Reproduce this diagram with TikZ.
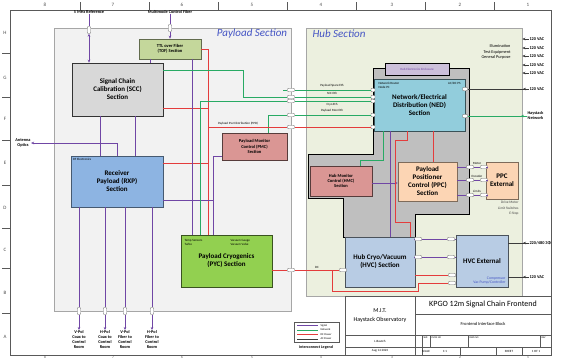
\documentclass[tikz,border=0pt]{standalone}
\usepackage{fontspec}
\setmainfont{Carlito}
\usetikzlibrary{arrows.meta,positioning}

\definecolor{kpgosig}{RGB}{112,70,165}
\definecolor{kpgonet}{RGB}{40,170,100}
\definecolor{kpgodc}{RGB}{228,60,60}
\definecolor{kpgoac}{RGB}{60,60,60}
\definecolor{kpgoblue}{RGB}{68,84,196}
\definecolor{payloadbg}{RGB}{242,242,242}
\definecolor{hubbg}{RGB}{236,240,223}
\definecolor{sccgray}{RGB}{216,216,216}
\definecolor{tofgreen}{RGB}{196,215,155}
\definecolor{rxpblue}{RGB}{141,180,226}
\definecolor{monred}{RGB}{218,150,148}
\definecolor{pycgreen}{RGB}{146,208,80}
\definecolor{nedcyan}{RGB}{146,205,220}
\definecolor{enclgray}{RGB}{191,191,191}
\definecolor{heepurple}{RGB}{204,192,218}
\definecolor{ppcorange}{RGB}{252,213,180}
\definecolor{hvcblue}{RGB}{184,204,228}

\begin{document}
\begin{tikzpicture}[
    x=1pt, y=-1pt,
    sec/.style={draw=gray!70, line width=0.6pt, inner sep=0pt},
    blk/.style={draw, line width=0.6pt, inner sep=1pt, align=center,
                font=\fontsize{7}{8}\selectfont\bfseries},
    conn/.style={draw=gray!80!black, fill=white, rounded corners=0.8pt,
                 minimum width=7pt, minimum height=3.5pt, inner sep=0pt,
                 line width=0.4pt},
    vconn/.style={conn, minimum width=3.5pt, minimum height=7pt},
    sig/.style={kpgosig, line width=0.9pt},
    net/.style={kpgonet, line width=0.9pt},
    dcp/.style={kpgodc, line width=0.9pt},
    acp/.style={kpgoac, line width=0.9pt},
    tip/.style={-{Stealth[length=3pt,width=2.6pt]}},
    weelbl/.style={font=\fontsize{3.2}{3.8}\selectfont, inner sep=0.3pt},
    lbl/.style={font=\fontsize{4.3}{5}\selectfont\bfseries, align=center,
                inner sep=0.3pt},
    ruler/.style={gray!70!black, line width=0.5pt},
    rlab/.style={font=\fontsize{5}{6}\selectfont, text=gray!60!black},
]

\useasboundingbox[fill=white] (0,0) rectangle (561,360);

% ================================================================
% DRAWING FRAME
% ================================================================
\draw[ruler] (10,10) rectangle (551,355);
\foreach \xx [count=\k] in {45,113,182,252,321,392,460,528} {
  \pgfmathtruncatemacro{\col}{9-\k}
  \node[rlab] (top\k) at (\xx,5) {\col};
  \node[rlab, font=\fontsize{3.5}{4}\selectfont, inner sep=0pt]
    (bot\k) at (\xx,357.8) {\col};
}
\foreach \xx in {80,149,218,287,356,425,494} {
  \draw[ruler] (\xx,2) -- (\xx,10);
}
\foreach \yy/\row in {33/H,78/G,119/F,163/E,208/D,250/C,293/B,337/A} {
  \node[rlab] (row\row) at (5,\yy) {\row};
}
\foreach \yy in {53,97,140,185,228,268,313} {
  \draw[ruler] (2,\yy) -- (10,\yy);
}

% ================================================================
% SECTIONS
% ================================================================
\node[sec, fill=payloadbg, minimum width=237pt, minimum height=283pt]
  (payload) at (172.5,169.5) {};
\node[font=\fontsize{11}{12}\selectfont\itshape, text=kpgoblue]
  (paytitle) at (252,34) {Payload Section};

\node[sec, fill=hubbg, minimum width=216pt, minimum height=268pt]
  (hub) at (414,162) {};
\node[font=\fontsize{11}{12}\selectfont\itshape, text=kpgoblue]
  (hubtitle) at (339,34) {Hub Section};

% Hub electronics enclosure outline
\draw[fill=enclgray, line width=1pt]
  (373,68) -- (469,68) -- (469,214) -- (415,214) -- (415,237)
  -- (343,237) -- (343,198) -- (308,198) -- (308,154) -- (373,154) -- cycle;
\node[draw, line width=1pt, fill=heepurple, minimum width=64pt,
      minimum height=12pt, inner sep=0pt, weelbl, text=kpgosig]
  (hee) at (417,69) {Hub Electronics Enclosure};

% ================================================================
% PAYLOAD BLOCKS
% ================================================================
\node[blk, fill=sccgray, draw=gray!40!black, minimum width=91pt,
      minimum height=53pt] (scc) at (117.5,89.5)
  {Signal Chain\\Calibration (SCC)\\Section};
\node[blk, fill=tofgreen, draw=tofgreen!50!black, minimum width=62pt,
      minimum height=20pt, font=\fontsize{4.5}{5.3}\selectfont\bfseries]
  (tof) at (170,49) {TTL over Fiber\\(TOF) Section};
\node[blk, fill=rxpblue, draw=rxpblue!50!black, minimum width=92pt,
      minimum height=51pt] (rxp) at (117,181.5)
  {Receiver\\Payload (RXP)\\Section};
\node[weelbl, anchor=west] (rfel) at (rxp.north west) [yshift=-4pt, xshift=2pt]
  {RF Electronics};
\node[blk, fill=monred, draw=monred!40!black, minimum width=65pt,
      minimum height=27pt, font=\fontsize{4.5}{5.3}\selectfont\bfseries]
  (pmc) at (254.5,146.5) {Payload Monitor\\Control (PMC)\\Section};
\node[blk, fill=pycgreen, draw=pycgreen!40!black, minimum width=91pt,
      minimum height=52pt] (pyc) at (226.5,261)
  {Payload Cryogenics\\(PYC) Section};
\node[weelbl, anchor=north west, align=left] (pycl) at (184,239)
  {Temp Sensors\\Turbo};
\node[weelbl, anchor=north west, align=left] (pycr) at (230,239)
  {Vacuum Gauge\\Vacuum Valve};

% ================================================================
% HUB BLOCKS
% ================================================================
\node[blk, fill=nedcyan, draw=nedcyan!40!black, minimum width=91pt,
      minimum height=52pt] (ned) at (419.5,105)
  {Network/Electrical\\Distribution (NED)\\Section};
\node[weelbl, anchor=north west, align=left] (nedl) at (378,82)
  {Network Router\\Node PC};
\node[weelbl, anchor=north east] (nedr) at (461,82) {AC/DC PS};
\node[blk, fill=monred, draw=monred!40!black, minimum width=62pt,
      minimum height=30pt, font=\fontsize{4.5}{5.3}\selectfont\bfseries]
  (hmc) at (341,181) {Hub Monitor\\Control (HMC)\\Section};
\node[blk, fill=ppcorange, draw=ppcorange!50!black, minimum width=59pt,
      minimum height=39pt] (ppc) at (427.5,181.5)
  {Payload\\Positioner\\Control (PPC)\\Section};
\node[blk, fill=ppcorange, draw=ppcorange!50!black, minimum width=32pt,
      minimum height=37pt] (ppcext) at (502,180.5) {PPC\\External};
\node[weelbl, anchor=north east, align=right, text=gray!50!black,
      font=\fontsize{3.5}{5.5}\selectfont] (ppcnote) at (519,201)
  {Drive Motor\\Limit Switches\\E-Stop};
\node[blk, fill=hvcblue, draw=hvcblue!40!black, minimum width=70pt,
      minimum height=50pt] (hvc) at (380,262)
  {Hub Cryo/Vacuum\\(HVC) Section};
\node[blk, fill=hvcblue, draw=hvcblue!40!black, minimum width=52pt,
      minimum height=52pt] (hvcext) at (482,261) {HVC External};
\node[weelbl, anchor=south east, align=right, text=kpgoblue,
      font=\fontsize{3.8}{4.6}\selectfont] (hvcnote) at (506,285)
  {Compressor\\Vac Pump/Controller};

% ================================================================
% EXTERNAL LABELS
% ================================================================
\node[lbl] (ref5) at (89,12) {5 MHz Reference};
\node[lbl] (mmf) at (170,12) {Multimode Control Fiber};
\node[lbl] (antopt) at (23,143) {Antenna\\Optics};
\node[lbl, font=\fontsize{4.3}{5.3}\selectfont, anchor=east, align=right]
  (illum) at (511,52) {Illumination\\Test Equipment\\General Purpose};
\node[lbl, anchor=west] (acned) at (529,89) {120 VAC};
\node[lbl, anchor=west] (hayst) at (527,115) {Haystack\\Network};
\node[lbl, anchor=west] (ac3ph) at (529,243) {220/480 3Φ};
\node[lbl, anchor=west] (achvc) at (529,277) {120 VAC};

% ================================================================
% PAYLOAD INTERCONNECTS
% ================================================================
% 5 MHz reference and control fiber
\node[vconn] (c5mhz) at (89,30) {};
\draw[sig, {Stealth[length=3pt,width=2.6pt]}-{Stealth[length=3pt,width=2.6pt]}]
  (ref5.south) -- (c5mhz) -- (scc.north -| c5mhz);
\node[vconn] (cmmf) at (170,28) {};
\draw[sig, tip] (mmf.south) -- (cmmf) -- (tof.north -| cmmf);
\coordinate (tofscc) at (150,59);
\draw[sig] (tofscc) -- (scc.north -| tofscc);

% SCC to RXP
\coordinate (xs1) at (100,0);
\coordinate (xs2) at (135,0);
\draw[sig] (scc.south -| xs1) -- (rxp.north -| xs1);
\draw[sig] (scc.south -| xs2) -- (rxp.north -| xs2);

% antenna optics
\coordinate (antbend) at (117,143);
\draw[sig, tip] (rxp.north -| antbend) -- (antbend) -- (antopt.east);

% RXP outputs to control room
\foreach \xx/\nm/\txt in {79/vcx/{V-Pol\\Coax to\\Control\\Room},
                          105/hcx/{H-Pol\\Coax to\\Control\\Room},
                          125/vfb/{V-Pol\\Fiber to\\Control\\Room},
                          152/hfb/{H-Pol\\Fiber to\\Control\\Room}} {
  \node[vconn] (c\nm) at (\xx,311) {};
  \node[lbl, anchor=north] (l\nm) at (\xx,330) {\txt};
  \draw[sig, tip] (rxp.south -| c\nm) -- (c\nm) -- (l\nm.north);
}

% DC power bus
\coordinate (dctop) at (208,49);
\coordinate (dcscc) at (208,108);
\coordinate (dcppd) at (208,127);
\coordinate (dcrxp) at (208,163);
\draw[dcp] (tof.east |- dctop) -- (dctop) -- (pyc.north -| dctop);
\draw[dcp] (scc.east |- dcscc) -- (dcscc);
\draw[dcp] (rxp.east |- dcrxp) -- (dcrxp);

% signal lines into cryogenics
\coordinate (xp1) at (192,0);
\coordinate (pmcsig) at (213,156);
\coordinate (rxpsig) at (213,200);
\draw[sig] (tof.south -| xp1) -- (pyc.north -| xp1);
\draw[sig] (pmc.west |- pmcsig) -- (pmcsig) -- (pyc.north -| pmcsig);
\draw[sig] (rxp.east |- rxpsig) -- (rxpsig);

% ================================================================
% PAYLOAD TO HUB
% ================================================================
\foreach \yy/\nm in {90/spare,97/sccn,101/cryo,115/mon,127/ppd} {
  \node[conn] (p\nm) at (291,\yy) {};
  \node[conn, minimum width=4pt] (n\nm) at (373,\yy) {};
}
\coordinate (sparestub) at (283,90);
\draw[net] (sparestub) -- (pspare) -- (nspare);
\coordinate (sccg1) at (243,70);
\coordinate (sccg2) at (243,97);
\draw[net] (scc.east |- sccg1) -- (sccg1) -- (sccg2) -- (psccn) -- (nsccn);
\coordinate (cryog) at (200,101);
\draw[net] (pyc.north -| cryog) -- (cryog) -- (pcryo) -- (ncryo);
\coordinate (mong) at (268,115);
\draw[net] (pmc.north -| mong) -- (mong) -- (pmon) -- (nmon);
\draw[dcp] (dcppd) -- (pppd) -- (nppd);

\node[weelbl, above=0.2pt of pspare, xshift=41pt] (tspare) {Payload Spare Eth};
\node[weelbl, above=0.2pt of psccn, xshift=41pt] (tsccn) {SCC Eth};
\node[weelbl, below=0.2pt of pcryo, xshift=41pt] (tcryo) {Cryo Eth};
\node[weelbl, above=0.2pt of pmon, xshift=41pt] (tmon) {Payload Mon Eth};
\node[weelbl, anchor=south] (tppd) at (238,126) {Payload Pwr Distribution (PPD)};

% cryogenics DC to HVC
\node[conn] (ppycdc) at (291,270) {};
\node[conn] (hpycdc) at (343,270) {};
\draw[dcp] (pyc.east |- ppycdc) -- (ppycdc) -- (hpycdc);
\node[weelbl, anchor=south] (tdc) at (317,269) {DC};
\coordinate (dcb1) at (332,270);
\coordinate (dcb2) at (332,291);
\coordinate (dcb3) at (418,291);
\coordinate (dcb4) at (418,283);
\node[conn] (xdc2) at (452,283) {};
\draw[dcp] (dcb1) -- (dcb2) -- (dcb3) -- (dcb4) -- (xdc2) -- (hvcext.west |- xdc2);

% ================================================================
% HUB INTERCONNECTS
% ================================================================
\coordinate (hmcn1) at (383,160);
\coordinate (hmcn2) at (360,160);
\draw[net] (ned.south -| hmcn1) -- (hmcn1) -- (hmcn2) -- (hmc.north -| hmcn2);
\coordinate (xp4) at (390,0);
\draw[sig] (ned.south -| xp4) -- (hvc.north -| xp4);
\coordinate (hmcppc) at (0,183);
\draw[sig, tip] (hmc.east |- hmcppc) -- (ppc.west |- hmcppc);
\coordinate (r1) at (407,140);
\coordinate (r2) at (395,140);
\coordinate (r3) at (395,222);
\coordinate (r4) at (410,222);
\draw[dcp] (ned.south -| r1) -- (r1) -- (r2) -- (r3) -- (r4) -- (hvc.north -| r4);
\coordinate (xr5) at (433,0);
\draw[dcp] (ned.south -| xr5) -- (ppc.north -| xr5);

% PPC to PPC external
\foreach \yy/\nm/\txt in {167/mot/Motor,180/enc/Encoder,195/lim/Limits} {
  \node[conn] (a\nm) at (470,\yy) {};
  \node[conn] (b\nm) at (484,\yy) {};
  \draw[sig] (ppc.east |- a\nm) -- (a\nm) -- (b\nm) -- (ppcext.west |- b\nm);
  \node[weelbl, anchor=south] (t\nm) at (477,\yy-2) {\txt};
}

% HVC to HVC external
\foreach \yy/\nm in {239/cry,257/vac} {
  \node[conn] (h\nm) at (418,\yy) {};
  \node[conn] (x\nm) at (451,\yy) {};
  \draw[sig] (hvc.east |- h\nm) -- (h\nm) -- (x\nm) -- (hvcext.west |- x\nm);
}
\node[conn] (xdc1) at (452,275) {};
\draw[dcp] (hvc.east |- xdc1) -- (xdc1) -- (hvcext.west |- xdc1);

% ================================================================
% EXTERNAL FEEDS
% ================================================================
\foreach \yy [count=\k] in {39,48,56,65,73} {
  \node[lbl, anchor=west] (ac\k) at (529,\yy) {120 VAC};
  \draw[acp, {Stealth[length=3pt,width=2.6pt]}-] (hub.east |- ac\k) -- (ac\k.west);
}
\node[conn, minimum width=5pt] (nedac) at (465,89) {};
\draw[acp] (nedac) -- (acned.west);
\draw[acp, tip] (acned.west) -- ++(-6,0);
\node[conn, minimum width=5pt] (nednet) at (465,116) {};
\draw[net] (nednet) -- (hayst.west |- nednet);
\draw[net, tip] (hayst.west |- nednet) -- ++(-6,0);
\draw[acp] (hvcext.east |- ac3ph) -- (ac3ph.west);
\draw[acp, tip] (ac3ph.west) -- ++(-6,0);
\draw[acp] (hvcext.east |- achvc) -- (achvc.west);
\draw[acp, tip] (achvc.west) -- ++(-6,0);

% ================================================================
% LEGEND
% ================================================================
\draw[gray!70!black, line width=0.4pt] (294,322) rectangle (339,342);
\foreach \yy/\sty/\txt in {325.5/sig/Signal,330/net/Network,
                           334.5/dcp/DC Power,339/acp/AC Power} {
  \draw[\sty, line width=0.5pt] (297,\yy) -- (318,\yy);
  \node[weelbl, anchor=west, font=\fontsize{2.8}{3}\selectfont] at (320,\yy) {\txt};
}
\node[weelbl, font=\fontsize{4}{5}\selectfont\bfseries] (legend) at (316,347)
  {Interconnect Legend};

% ================================================================
% TITLE BLOCK
% ================================================================
\draw[gray!70!black, line width=0.5pt] (345,296) rectangle (551,355);
\draw[gray!70!black, line width=0.5pt]
  (415,296) -- (415,355)
  (415,314) -- (551,314)
  (345,335) -- (551,335)
  (345,347) -- (551,347)
  (422,335) -- (422,355)
  (430,335) -- (430,347)
  (468,335) -- (468,347)
  (540,335) -- (540,347)
  (460,347) -- (460,355)
  (496,347) -- (496,355)
  (522,347) -- (522,355);
\node[font=\fontsize{6}{7}\selectfont] (mit) at (380,311) {M.I.T.};
\node[font=\fontsize{6}{7}\selectfont] (hobs) at (380,320) {Haystack Observatory};
\node[font=\fontsize{8}{9}\selectfont] (dtitle) at (483,304)
  {KPGO 12m Signal Chain Frontend};
\node[font=\fontsize{4.5}{5}\selectfont] (dsub) at (483,324)
  {Frontend Interface Block};
\node[weelbl] (drawn) at (380,341) {L.Bautch};
\node[weelbl] (ddate) at (380,351) {Aug 14 2023};
\node[weelbl, anchor=north west, font=\fontsize{2.5}{3}\selectfont] at (423,336) {SIZE};
\node[weelbl, anchor=north west, font=\fontsize{2.5}{3}\selectfont] at (431,336) {FSCM NO};
\node[weelbl, anchor=north west, font=\fontsize{2.5}{3}\selectfont] at (469,336) {DWG NO};
\node[weelbl, anchor=north west, font=\fontsize{2.5}{3}\selectfont] at (541,336) {REV};
\node[weelbl] at (426,351) {SCALE};
\node[weelbl] at (445,351) {1:1};
\node[weelbl] at (509,351) {SHEET};
\node[weelbl] at (536,351) {1 OF 1};

\end{tikzpicture}
\end{document}
